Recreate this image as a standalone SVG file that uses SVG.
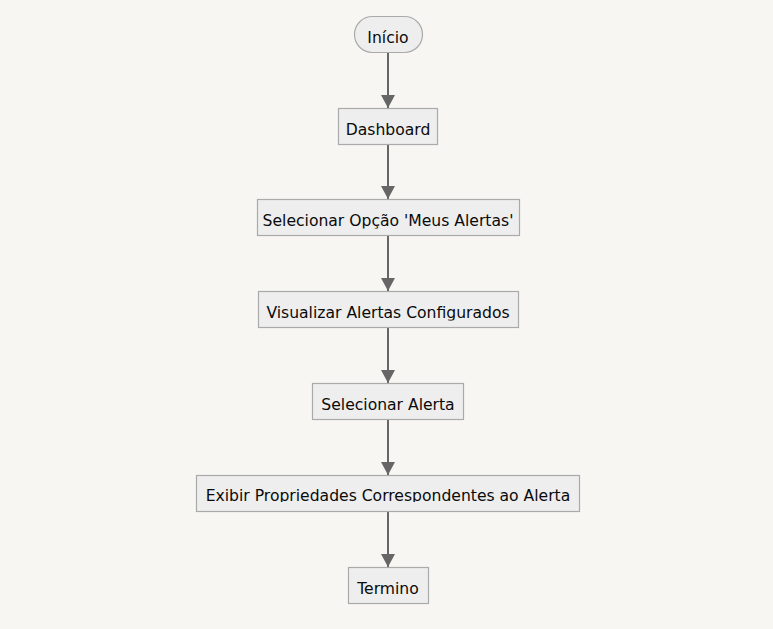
<svg xmlns="http://www.w3.org/2000/svg" width="773" height="629" viewBox="0 0 773 629">
<style>
.node rect{fill:#eeeeee;stroke:#aaaaaa;stroke-width:1.2}
.node text{font-family:"DejaVu Sans",sans-serif;font-size:15.6px;fill:#0a0a0a;text-anchor:middle}
.edge{stroke:#666;stroke-width:2;fill:none}
</style>
<defs>
<marker id="arr" viewBox="0 0 13 14" refX="13" refY="7" markerWidth="13" markerHeight="14" markerUnits="userSpaceOnUse" orient="auto">
<path d="M0,0 L13,7 L0,14 z" fill="#666"/>
</marker>
<clipPath id="c1"><rect x="0" y="0" width="773" height="45.5"/></clipPath>
<clipPath id="c2"><rect x="0" y="0" width="773" height="137"/></clipPath>
<clipPath id="c3"><rect x="0" y="0" width="773" height="228.5"/></clipPath>
<clipPath id="c4"><rect x="0" y="0" width="773" height="320.5"/></clipPath>
<clipPath id="c5"><rect x="0" y="0" width="773" height="412.5"/></clipPath>
<clipPath id="c6"><rect x="0" y="0" width="773" height="502"/></clipPath>
<clipPath id="c7"><rect x="0" y="0" width="773" height="596"/></clipPath>
</defs>
<rect width="773" height="629" fill="#f7f6f3"/>
<g id="edges">
<line class="edge" x1="388" y1="52" x2="388" y2="108" marker-end="url(#arr)"/>
<line class="edge" x1="388" y1="144" x2="388" y2="199" marker-end="url(#arr)"/>
<line class="edge" x1="388" y1="235" x2="388" y2="291" marker-end="url(#arr)"/>
<line class="edge" x1="388" y1="327" x2="388" y2="383" marker-end="url(#arr)"/>
<line class="edge" x1="388" y1="419" x2="388" y2="475" marker-end="url(#arr)"/>
<line class="edge" x1="388" y1="511" x2="388" y2="567" marker-end="url(#arr)"/>
</g>
<g id="inicio" class="node">
<rect x="354.5" y="16.5" width="68" height="36" rx="18" ry="18"/>
<text x="388" y="42.5" clip-path="url(#c1)">Início</text>
</g>
<g id="dashboard" class="node">
<rect x="338.5" y="108.5" width="99" height="36"/>
<text x="388" y="134.5" clip-path="url(#c2)">Dashboard</text>
</g>
<g id="selecionar-opcao" class="node">
<rect x="257.5" y="199.5" width="262" height="36"/>
<text x="388" y="226" clip-path="url(#c3)">Selecionar Opção 'Meus Alertas'</text>
</g>
<g id="visualizar" class="node">
<rect x="258.5" y="291.5" width="260" height="36"/>
<text x="388" y="318" clip-path="url(#c4)">Visualizar Alertas Configurados</text>
</g>
<g id="selecionar-alerta" class="node">
<rect x="312.5" y="383.5" width="151" height="36"/>
<text x="388" y="410" clip-path="url(#c5)">Selecionar Alerta</text>
</g>
<g id="exibir" class="node">
<rect x="196.5" y="475.5" width="383" height="36"/>
<text x="388" y="501" clip-path="url(#c6)">Exibir Propriedades Correspondentes ao Alerta</text>
</g>
<g id="termino" class="node">
<rect x="348.5" y="567.5" width="80" height="36"/>
<text x="388" y="594" clip-path="url(#c7)">Termino</text>
</g>
</svg>
